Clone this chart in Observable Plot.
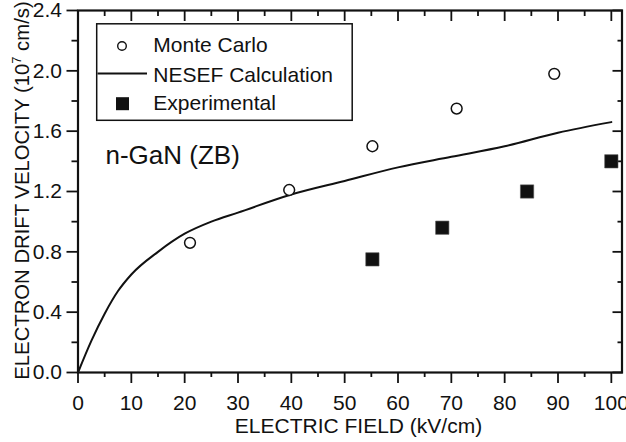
<!DOCTYPE html>
<html>
<head>
<meta charset="utf-8">
<script src="https://cdn.jsdelivr.net/npm/d3@7"></script>
<script src="https://cdn.jsdelivr.net/npm/@observablehq/plot@0.6"></script>
<style>
  html, body { margin: 0; padding: 0; background: #fff; }
  #chart { width: 626px; height: 442px; }
</style>
</head>
<body>
<div id="chart"></div>
<script>
// ---- data ----
const monteCarloField = [21, 39.6, 55.2, 71, 89.3];
const monteCarloVel   = [0.86, 1.21, 1.50, 1.75, 1.98];

const expField = [55.2, 68.3, 84.2, 100];
const expVel   = [0.75, 0.96, 1.20, 1.40];

const nesefField = [0, 2.5, 5, 7.5, 10, 15, 20, 25, 30, 40, 50, 60, 70, 80, 90, 100];
const nesefVel   = [0, 0.21, 0.39, 0.54, 0.65, 0.80, 0.92, 1.00, 1.06, 1.18, 1.27, 1.36, 1.43, 1.50, 1.59, 1.66];

const xMajorTicks = [0, 10, 20, 30, 40, 50, 60, 70, 80, 90, 100];
const xMinorTicks = [5, 15, 25, 35, 45, 55, 65, 75, 85, 95];
const yMajorTicks = [0, 0.4, 0.8, 1.2, 1.6, 2.0, 2.4];
const yMinorTicks = [0.2, 0.6, 1.0, 1.4, 1.8, 2.2];

const legendLabels = ["Monte Carlo", "NESEF Calculation", "Experimental"];
const xLabel = "ELECTRIC FIELD (kV/cm)";
const yLabel = "ELECTRON DRIFT VELOCITY (10";
const yLabelSup = "7";
const yLabelTail = " cm/s)";
const annotation = "n-GaN (ZB)";

const mc = monteCarloField.map((x, i) => ({x, y: monteCarloVel[i]}));
const ex = expField.map((x, i) => ({x, y: expVel[i]}));
const ne = nesefField.map((x, i) => ({x, y: nesefVel[i]}));

const FONT = "'Liberation Sans', Arial, Helvetica, sans-serif";
const FS = 21;
const fmt = d3.format(".1f");

const chart = Plot.plot({
  width: 626,
  height: 442,
  marginLeft: 77.5,
  marginRight: 4.5,
  marginTop: 10,
  marginBottom: 70,
  style: {background: "#fff", color: "#111", fontFamily: FONT, fontSize: FS + "px", overflow: "visible"},
  x: {domain: [0, 102], label: null},
  y: {domain: [0, 2.4], label: null},
  marks: [
    // bottom axis
    Plot.axisX({ticks: xMajorTicks, tickSize: 11, tickPadding: 12, tickFormat: d => String(d), fontSize: FS, strokeWidth: 1.8, label: null}),
    Plot.axisX({ticks: xMinorTicks, tickSize: 5, tickFormat: () => "", strokeWidth: 1.8, label: null}),
    // top ticks (inward)
    Plot.axisX({anchor: "top", ticks: xMajorTicks, tickSize: -10, tickFormat: () => "", strokeWidth: 1.8, label: null}),
    Plot.axisX({anchor: "top", ticks: xMinorTicks, tickSize: -5, tickFormat: () => "", strokeWidth: 1.8, label: null}),
    // left axis
    Plot.axisY({ticks: yMajorTicks, tickSize: 11, tickPadding: 5, tickFormat: fmt, fontSize: FS, strokeWidth: 1.8, label: null}),
    Plot.axisY({ticks: yMinorTicks, tickSize: 6, tickFormat: () => "", strokeWidth: 1.8, label: null}),
    // right ticks (inward)
    Plot.axisY({anchor: "right", ticks: yMajorTicks, tickSize: -10, tickFormat: () => "", strokeWidth: 1.8, label: null}),
    Plot.axisY({anchor: "right", ticks: yMinorTicks, tickSize: -5, tickFormat: () => "", strokeWidth: 1.8, label: null}),
    Plot.frame({stroke: "#111", strokeWidth: 2.2}),
    // NESEF line
    Plot.line(ne, {x: "x", y: "y", stroke: "#111", strokeWidth: 2, curve: "monotone-x"}),
    // Monte Carlo circles
    Plot.dot(mc, {x: "x", y: "y", r: 5.4, stroke: "#111", fill: "#fff", strokeWidth: 1.5}),
    // Experimental squares
    Plot.dot(ex, {x: "x", y: "y", symbol: "square", r: 7.5, fill: "#111", stroke: "#555", strokeWidth: 0.6}),
    // annotation
    Plot.text([annotation], {frameAnchor: "top-left", dx: 27.5, dy: 153.5, lineAnchor: "bottom", textAnchor: "start", fontSize: 26, fill: "#111"}),
    // axis labels
    Plot.text([xLabel], {frameAnchor: "bottom", dx: 8.5, dy: 60, lineAnchor: "bottom", textAnchor: "middle", fontSize: FS, fill: "#111"}),
    Plot.text([yLabel], {frameAnchor: "left", dx: -49.5, dy: -1, rotate: -90, lineAnchor: "bottom", textAnchor: "middle", fontSize: 20.3, fill: "#111", className: "ylab"})
  ]
});

document.getElementById("chart").appendChild(chart);

// superscript in y label
const svg = d3.select(chart);
svg.selectAll(".ylab text").each(function () {
  const t = d3.select(this);
  t.text(null).attr("text-anchor", "middle");
  t.append("tspan").text(yLabel);
  t.append("tspan").attr("dy", -8).attr("font-size", 13).text(yLabelSup);
  t.append("tspan").attr("dy", 8).text(yLabelTail);
});

// legend box (inside plot area)
const lg = svg.append("g").attr("font-family", FONT).attr("font-size", FS).attr("fill", "#111").attr("text-anchor", "start");
lg.append("rect").attr("x", 96.7).attr("y", 23.8).attr("width", 255.5).attr("height", 96.5)
  .attr("fill", "#fff").attr("stroke", "#111").attr("stroke-width", 1.5);
lg.append("circle").attr("cx", 122).attr("cy", 46).attr("r", 4.3)
  .attr("fill", "#fff").attr("stroke", "#111").attr("stroke-width", 1.4);
lg.append("line").attr("x1", 97.5).attr("x2", 147).attr("y1", 73.5).attr("y2", 73.5)
  .attr("stroke", "#111").attr("stroke-width", 2);
lg.append("rect").attr("x", 116).attr("y", 97.2).attr("width", 13).attr("height", 13).attr("fill", "#111");
const baselines = [52.3, 81.7, 110];
legendLabels.forEach((s, i) => {
  lg.append("text").attr("x", 153.3).attr("y", baselines[i]).attr("text-anchor", "start").text(s);
});
</script>
</body>
</html>
